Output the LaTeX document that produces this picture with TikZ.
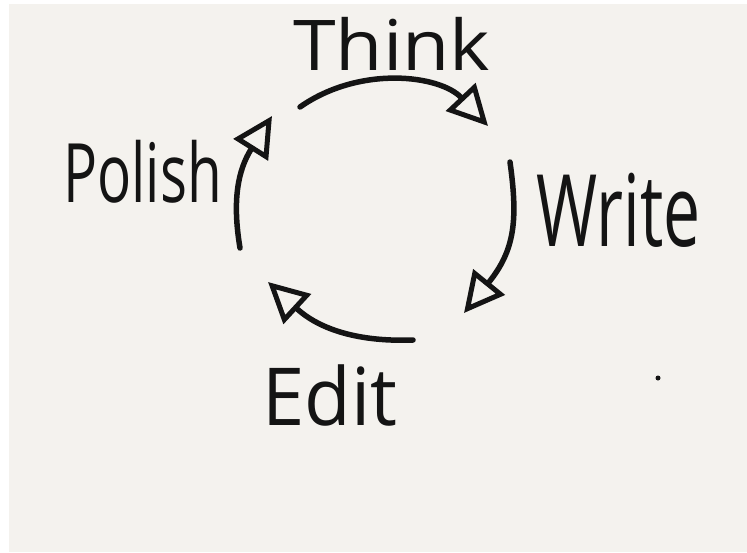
\documentclass[tikz,border=0pt]{standalone}
\usepackage{fontspec}
\setmainfont{Open Sans}
\usetikzlibrary{arrows.meta}
\definecolor{paper}{HTML}{F4F2EE}
\definecolor{ink}{HTML}{141414}
\begin{document}
\begin{tikzpicture}[x=1pt,y=-1pt,
  word/.style={anchor=base west, inner sep=0pt, text=ink},
  flow/.style={draw=ink, line width=5.5pt, line cap=round,
    -{Triangle[open,length=40pt,width=40pt,line width=5pt]}}]
\useasboundingbox (0,0) rectangle (747,552);
\fill[white] (0,0) rectangle (747,552);
\fill[paper] (9,4) rectangle (747,552);
% words
\node[word, font=\fontsize{70}{70}\selectfont] (think) at (293,70) {\scalebox{1.1}[1]{Think}};
\node[word, font=\fontsize{100}{100}\selectfont] (write) at (536,246) {\scalebox{0.66}[1]{Write}};
\node[word, font=\fontsize{80}{80}\selectfont] (edit) at (262,425) {\scalebox{0.95}[1]{Edit}};
\node[word, font=\fontsize{82}{82}\selectfont] (polish) at (63,202) {\scalebox{0.69}[1]{Polish}};
% connector end points
\coordinate (t1) at (300,107);
\coordinate (t2) at (488,126);
\coordinate (w1) at (510,162);
\coordinate (w2) at (464,313);
\coordinate (e1) at (413,340);
\coordinate (e2) at (268,282);
\coordinate (p1) at (240,248);
\coordinate (p2) at (272,116);
\draw[flow] (t1) .. controls (360,65) and (440,75) .. (t2);
\draw[flow] (w1) .. controls (518,220) and (515,250) .. (w2);
\draw[flow] (e1) .. controls (360,342) and (320,330) .. (e2);
\draw[flow] (p1) .. controls (232,200) and (238,170) .. (p2);
% stray dot
\fill[ink] (658,378) circle (2.5pt);
\end{tikzpicture}
\end{document}
